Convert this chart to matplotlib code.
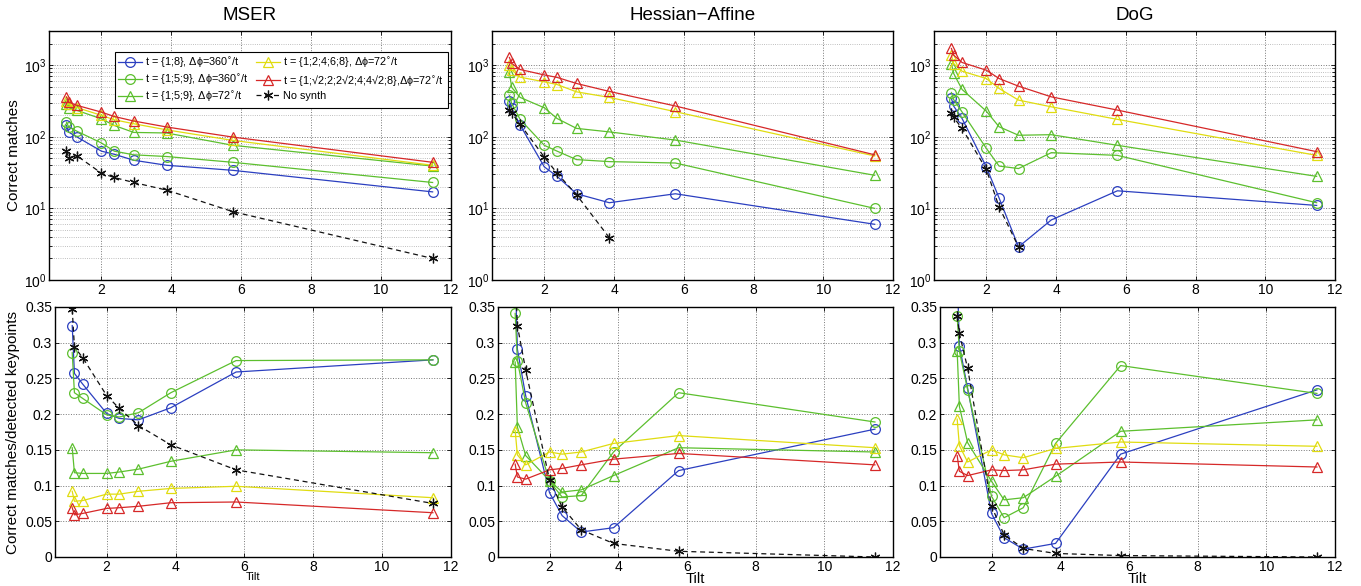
import matplotlib
matplotlib.use("Agg")
import matplotlib.pyplot as plt
import numpy as np
from matplotlib.ticker import FixedLocator, FuncFormatter, LogLocator, NullFormatter

plt.rcParams["font.family"] = ["Liberation Sans", "DejaVu Sans"]
plt.rcParams["mathtext.fontset"] = "dejavusans"

nan = float("nan")

# tilt t = 1/cos(theta)
tilt = [1.0, 1.064, 1.305, 2.0, 2.366, 2.924, 3.864, 5.759, 11.474]

labels = [
    r"t = {1;8}, Δϕ=360$^{\circ}$/t",
    r"t = {1;5;9}, Δϕ=360$^{\circ}$/t",
    r"t = {1;5;9}, Δϕ=72$^{\circ}$/t",
    r"t = {1;2;4;6;8}, Δϕ=72$^{\circ}$/t",
    r"t = {1;√2;2;2√2;4;4√2;8},Δϕ=72$^{\circ}$/t",
    "No synth",
]
colors = ["#2b3fc0", "#5cbf2e", "#5cbf2e", "#e0dc10", "#d62828", "#111111"]
markers = ["o", "o", "^", "^", "^", (6, 2, 0)]

# correct matches (top row), order follows labels
mser_matches = [
    [144, 116, 99, 63, 57, 47, 40, 34, 17],
    [160, 137, 119, 82, 63, 56, 53, 44, 23],
    [290, 255, 233, 178, 144, 115, 113, 76, 39],
    [320, 283, 255, 199, 173, 152, 125, 89, 40],
    [359, 305, 274, 221, 192, 166, 137, 99, 44],
    [63, 51, 54, 31, 27, 23, 18, 9, 2],
]
hessian_matches = [
    [315, 250, 146, 38, 28, 16, 12, 16, 6],
    [380, 293, 175, 76, 63, 48, 45, 43, 10],
    [790, 490, 355, 254, 180, 131, 117, 90, 29],
    [1000, 860, 680, 585, 537, 424, 355, 224, 54],
    [1280, 1060, 870, 730, 675, 555, 430, 269, 56],
    [240, 215, 150, 52, 31, 15.5, 3.9, nan, nan],
]
dog_matches = [
    [343, 268, 180, 38, 14, 2.9, 6.9, 17.6, 11],
    [415, 330, 222, 69, 39, 36, 60, 55, 12],
    [1050, 766, 458, 228, 138, 105, 107, 76, 28],
    [1380, 1050, 823, 651, 473, 325, 262, 175, 55],
    [1710, 1380, 1090, 851, 651, 509, 361, 236, 62],
    [212, 186, 131, 35, 10.5, 2.9, nan, nan, nan],
]

# correct matches / detected keypoints (bottom row)
mser_ratio = [
    [0.324, 0.257, 0.242, 0.201, 0.194, 0.192, 0.209, 0.259, 0.276],
    [0.286, 0.230, 0.222, 0.199, 0.196, 0.202, 0.230, 0.275, 0.276],
    [0.153, 0.118, 0.117, 0.117, 0.119, 0.123, 0.134, 0.150, 0.146],
    [0.092, 0.078, 0.079, 0.088, 0.088, 0.092, 0.096, 0.099, 0.083],
    [0.069, 0.059, 0.061, 0.068, 0.069, 0.071, 0.076, 0.077, 0.062],
    [0.347, 0.294, 0.279, 0.226, 0.208, 0.184, 0.157, 0.122, 0.075],
]
hessian_ratio = [
    [0.40, 0.291, 0.226, 0.090, 0.058, 0.035, 0.041, 0.121, 0.179],
    [0.341, 0.275, 0.216, 0.106, 0.084, 0.086, 0.147, 0.230, 0.189],
    [0.273, 0.182, 0.142, 0.107, 0.091, 0.094, 0.114, 0.153, 0.147],
    [0.177, 0.143, 0.129, 0.147, 0.144, 0.147, 0.159, 0.170, 0.153],
    [0.130, 0.112, 0.109, 0.122, 0.124, 0.129, 0.137, 0.145, 0.129],
    [0.40, 0.324, 0.262, 0.108, 0.070, 0.038, 0.019, 0.008, 0.0],
]
dog_ratio = [
    [0.40, 0.296, 0.236, 0.061, 0.027, 0.011, 0.019, 0.144, 0.234],
    [0.337, 0.288, 0.234, 0.085, 0.055, 0.069, 0.159, 0.268, 0.229],
    [0.288, 0.211, 0.160, 0.106, 0.080, 0.083, 0.113, 0.176, 0.192],
    [0.193, 0.156, 0.133, 0.150, 0.143, 0.139, 0.152, 0.161, 0.155],
    [0.142, 0.120, 0.114, 0.122, 0.121, 0.122, 0.130, 0.133, 0.126],
    [0.338, 0.313, 0.264, 0.071, 0.031, 0.012, 0.005, 0.002, 0.0],
]

titles = ["MSER", "Hessian\u2212Affine", "DoG"]

W, H = 1361, 586


def px_box(left, right, top, bottom):
    return [left / W, 1 - bottom / H, (right - left) / W, (bottom - top) / H]


def draw_series(ax, series):
    for i, ys in enumerate(series):
        ls = (0, (4, 3)) if i == 5 else "-"
        ax.plot(tilt, ys, linestyle=ls, color=colors[i], marker=markers[i],
                markersize=7, markerfacecolor="none",
                markeredgecolor=colors[i], markeredgewidth=0.9,
                linewidth=0.9, label=labels[i])


def style_axes(ax):
    ax.set_xlim(0.5, 12)
    ax.set_xticks([2, 4, 6, 8, 10, 12])
    ax.tick_params(which="both", direction="in", top=True, right=True,
                   labelsize=10, length=3, width=0.6, pad=2)
    ax.tick_params(which="minor", length=2)
    ax.grid(True, which="major", linestyle=":", color="#777777", linewidth=0.7)
    for s in ax.spines.values():
        s.set_linewidth(1.0)


fig = plt.figure(figsize=(W / 100, H / 100), dpi=100)

top_boxes = [(49, 451), (492, 893), (934, 1335)]
bot_boxes = [(55, 451), (498, 893), (940, 1335)]
top_data = [mser_matches, hessian_matches, dog_matches]
bot_data = [mser_ratio, hessian_ratio, dog_ratio]

for k in range(3):
    ax = fig.add_axes(px_box(top_boxes[k][0], top_boxes[k][1], 31, 280))
    draw_series(ax, top_data[k])
    ax.set_yscale("log")
    ax.set_ylim(1, 3000)
    style_axes(ax)
    ax.yaxis.set_major_locator(FixedLocator([1, 10, 100, 1000]))
    ax.yaxis.set_minor_locator(LogLocator(base=10, subs=np.arange(2, 10)))
    ax.yaxis.set_minor_formatter(NullFormatter())
    ax.grid(True, which="minor", axis="y", linestyle=":", color="#aaaaaa", linewidth=0.6)
    ax.set_title(titles[k], fontsize=13.5, pad=8)
    if k == 0:
        ax.set_ylabel("Correct matches", fontsize=11, labelpad=2)
        leg = ax.legend(ncol=2, loc="upper right", bbox_to_anchor=(0.992, 0.917),
                        borderaxespad=0, fontsize=7.8, frameon=True, fancybox=False,
                        framealpha=1, edgecolor="black", handlelength=2.2,
                        handletextpad=0.3, columnspacing=0.6, labelspacing=0.3,
                        borderpad=0.35)
        leg.get_frame().set_linewidth(0.8)

    ax = fig.add_axes(px_box(bot_boxes[k][0], bot_boxes[k][1], 307, 557))
    draw_series(ax, bot_data[k])
    ax.set_ylim(0, 0.35)
    ax.set_yticks([0, 0.05, 0.1, 0.15, 0.2, 0.25, 0.3, 0.35])
    ax.yaxis.set_major_formatter(FuncFormatter(lambda v, p: "%g" % round(v, 2)))
    style_axes(ax)
    ax.set_xlabel("Tilt", fontsize=8 if k == 0 else 10.5, labelpad=-1)
    if k == 0:
        ax.set_ylabel("Correct matches/detected keypoints", fontsize=11, labelpad=4)

fig.savefig("out.png", dpi=100)
